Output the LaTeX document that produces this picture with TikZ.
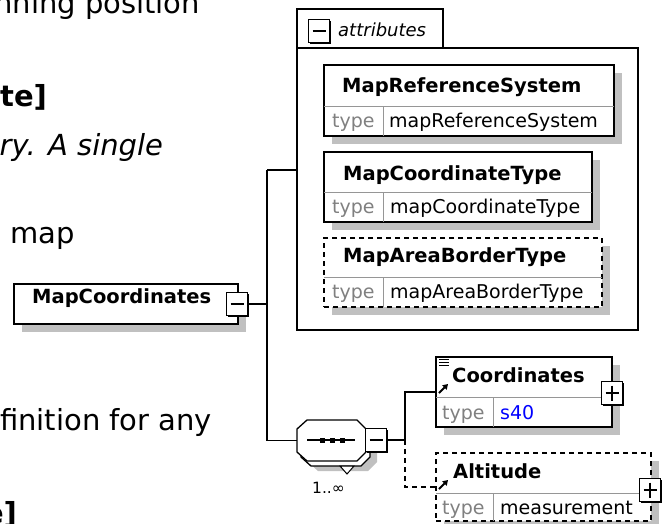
\documentclass[tikz,border=0pt]{standalone}
\usepackage{fontspec}
\setmainfont{DejaVu Sans}[BoldFont={DejaVu Sans Bold},ItalicFont={DejaVu Sans Oblique},BoldItalicFont={DejaVu Sans Bold Oblique}]
\usetikzlibrary{shadows,arrows.meta}
\definecolor{shadowgray}{RGB}{192,192,192}
\definecolor{typegray}{RGB}{128,128,128}
\definecolor{divgray}{RGB}{150,150,150}
\definecolor{valblue}{RGB}{0,0,255}
\newcommand{\doctext}{\fontsize{29}{34}\selectfont}
\newcommand{\namefont}{\fontsize{19.5}{22}\selectfont\bfseries}
\newcommand{\typefont}{\fontsize{19}{22}\selectfont}

\tikzset{
  elbox/.style={draw, line width=1.5pt, fill=white, inner sep=0pt, outer sep=0pt, anchor=north west,
    general shadow={fill=shadowgray, shadow xshift=8pt, shadow yshift=-8pt}},
  optbox/.style={elbox, dash pattern=on 5pt off 4pt},
  grpbox/.style={draw, line width=1.5pt, inner sep=0pt, outer sep=0pt, anchor=north west},
  divline/.style={draw=divgray, line width=1pt},
  wire/.style={line width=1.5pt},
  btnbox/.style={draw, line width=1.3pt, fill=white, inner sep=0pt, outer sep=0pt,
    minimum width=21, minimum height=23,
    general shadow={fill=black, shadow xshift=1.5pt, shadow yshift=-1.5pt}},
  minusbtn/.style={btnbox, path picture={
    \draw[line width=1.3pt] ([xshift=4pt]path picture bounding box.west) -- ([xshift=-4pt]path picture bounding box.east);}},
  plusbtn/.style={btnbox, path picture={
    \draw[line width=1.3pt] ([xshift=4pt]path picture bounding box.west) -- ([xshift=-4pt]path picture bounding box.east);
    \draw[line width=1.3pt] ([yshift=-4pt]path picture bounding box.north) -- ([yshift=4pt]path picture bounding box.south);}},
  doctxt/.style={font=\doctext, inner sep=0pt, outer sep=0pt},
  nametxt/.style={font=\namefont, inner sep=0pt, anchor=base west},
  typelbl/.style={font=\typefont, text=typegray, inner sep=0pt, anchor=base west},
  typeval/.style={font=\typefont, inner sep=0pt, anchor=base west},
  seqline/.style={draw, line width=1.3pt, fill=white},
  seqshade/.style={fill=shadowgray},
  dotsq/.style={fill, inner sep=0pt, minimum size=5},
  refarrow/.style={-{Triangle[length=5pt,width=6pt]}, line width=1.8pt},
}

\begin{document}
\begin{tikzpicture}[x=1pt,y=-1pt]
  \useasboundingbox (0,0) rectangle (663,523);
  \clip (0,0) rectangle (663,523);

  % text of the page behind the diagram
  \node[doctxt, anchor=base east] (txtA) at (200,13) {nning position};
  \node[doctxt, anchor=base east, font=\doctext\bfseries] (txtB) at (47,106) {te]};
  \node[doctxt, anchor=base east, font=\doctext\itshape] (txtC) at (163,155) {ry. A single};
  \node[doctxt, anchor=base west] (txtD) at (10,243) {map};
  \node[doctxt, anchor=base east] (txtE) at (212,430) {finition for any};
  \node[doctxt, anchor=base east, font=\doctext\bfseries] (txtF) at (17,523) {e]};

  % root element
  \node[elbox, minimum width=224, minimum height=40] (mapcrd) at (14,284) {};
  \node[nametxt] (mapcrdname) at (32,303) {MapCoordinates};
  \node[minusbtn] (mapcrdbtn) at (237,304) {};

  % attribute group
  \node[grpbox, minimum width=341, minimum height=282] (attrs) at (297,48) {};
  \draw[wire] (attrs.north west) -- ++(0,-39) -| (443,48);
  \node[minusbtn] (attrsbtn) at (319,31) {};
  \node[font=\fontsize{18}{20}\selectfont\itshape, anchor=base west, inner sep=0pt] (attrslbl) at (338,36) {attributes};

  \node[elbox, minimum width=290, minimum height=71] (refsys) at (324,65) {};
  \node[elbox, minimum width=268, minimum height=70] (crdtype) at (324,152) {};
  \node[optbox, minimum width=278, minimum height=69] (areabrd) at (324,238) {};

  % child elements
  \node[elbox, minimum width=176, minimum height=70] (coords) at (436,357) {};
  \node[optbox, minimum width=215, minimum height=68] (alt) at (436,453) {};

  \foreach \b/\h/\c in {refsys/41/59,crdtype/40/59,areabrd/39/59,coords/40/57,alt/40/57} {
    \draw[divline] ([yshift=-\h]\b.north west) -- ([yshift=-\h]\b.north east);
    \draw[divline] ([xshift=\c,yshift=-\h]\b.north west) -- ([xshift=\c]\b.south west);
  }

  \node[nametxt] (refsysname) at (342,92) {MapReferenceSystem};
  \node[typelbl] (refsyslbl) at (332,127) {type};
  \node[typeval] (refsysval) at (389,127) {mapReferenceSystem};
  \node[nametxt] (crdtypename) at (343,180) {MapCoordinateType};
  \node[typelbl] (crdtypelbl) at (332,213) {type};
  \node[typeval] (crdtypeval) at (390,213) {mapCoordinateType};
  \node[nametxt] (areabrdname) at (343,262) {MapAreaBorderType};
  \node[typelbl] (areabrdlbl) at (332,298) {type};
  \node[typeval] (areabrdval) at (390,298) {mapAreaBorderType};

  \node[nametxt] (coordsname) at (452,382) {Coordinates};
  \node[typelbl] (coordslbl) at (442,419) {type};
  \node[typeval, text=valblue] (coordsval) at (500,419) {s40};
  \node[nametxt] (altname) at (453,478) {Altitude};
  \node[typelbl] (altlbl) at (442,514) {type};
  \node[typeval] (altval) at (500,514) {measurement};

  \foreach \yy in {359,362,365} \draw[line width=1pt] (439,\yy) -- (449,\yy);
  \draw[refarrow] (439,393) -- (448,384);
  \draw[refarrow] (439,489) -- (448,480);

  \node[plusbtn] (coordsbtn) at (612,393) {};
  \node[plusbtn] (altbtn) at (650,490) {};

  % sequence compositor
  \foreach \dx/\dy/\sty in {11/10/seqshade,4/5/seqline,0/0/seqline}
    \path[\sty, xshift=\dx, yshift=-\dy] (307,420) -- (357,420) -- (366,429) -- (366,452)
      -- (357,461) -- (307,461) -- (297,452) -- (297,429) -- cycle;
  \draw[line width=1pt, fill=white] (340,466) -- (354,466) -- (347,474) -- cycle;
  \node[inner sep=0pt, outer sep=0pt, minimum width=69, minimum height=41] (seq) at (331.5,440.5) {};
  \draw[line width=1.3pt] (307,440) -- (355,440);
  \foreach \x in {322,332,342} \node[dotsq] (dot\x) at (\x,440) {};
  \node[minusbtn] (seqbtn) at (376,440) {};
  \node[font=\fontsize{15.5}{17}\selectfont, anchor=base west, inner sep=0pt] (card) at (312,493) {1..∞};

  % connectors
  \coordinate (fork) at (267,304);
  \coordinate (attrin) at (297,170);
  \coordinate (split) at (405,440);
  \draw[wire] (mapcrdbtn.east) -- (fork);
  \draw[wire] (fork |- attrin) -- (attrin);
  \draw[wire] (fork |- attrin) -- (fork |- seq.west) -- (seq.west);
  \draw[wire] (seqbtn.east) -- (split) |- (coords.west);
  \draw[wire, dash pattern=on 5pt off 4pt] (split) |- (alt.west);
\end{tikzpicture}
\end{document}
